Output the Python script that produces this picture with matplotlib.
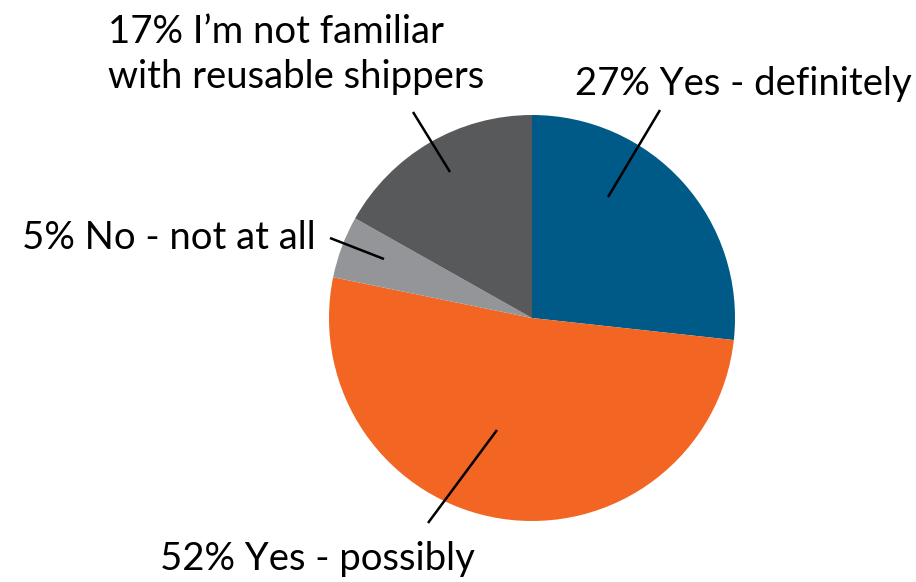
import matplotlib
matplotlib.use("Agg")
import matplotlib.pyplot as plt

labels = ["27% Yes - definitely", "52% Yes - possibly", "5% No - not at all",
          "17% I\u2019m not familiar\nwith reusable shippers"]
values = [27, 52, 5, 17]
colors = ["#005a87", "#f26522", "#939598", "#58595b"]

W, H = 916, 582
fig = plt.figure(figsize=(W / 100, H / 100), dpi=100)
fig.patch.set_facecolor("white")

cx, cy, r = 532, 318, 203
ax = fig.add_axes([(cx - r) / W, (H - cy - r) / H, 2 * r / W, 2 * r / H])
ax.pie(values, colors=colors, startangle=90, counterclock=False, radius=1.0,
       wedgeprops=dict(linewidth=0))
ax.set_xlim(-1, 1)
ax.set_ylim(-1, 1)
ax.set_aspect("equal")
ax.axis("off")


def px(x, y):
    return ((x - cx) / r, (cy - y) / r)


# leader lines (inner point, outer point) in pixel space
leaders = [((608, 197), (660, 110)),
           ((497, 430), (428, 523)),
           ((384, 259), (330, 238)),
           ((450, 172), (413, 112))]
for (a, b) in leaders:
    (x0, y0), (x1, y1) = px(*a), px(*b)
    ax.plot([x0, x1], [y0, y1], color="black", lw=1.8, clip_on=False,
            solid_capstyle="butt")

font = dict(family=["Lato", "DejaVu Sans"], fontsize=27.5, color="black")
# label anchors: (x, baseline y of first line) in pixels
anchors = [(575, 95), (160, 570), (22, 249), (108, 43)]
line_gap = 45
for lab, (x, y) in zip(labels, anchors):
    for i, line in enumerate(lab.split("\n")):
        fig.text(x / W, 1 - (y + i * line_gap) / H, line, ha="left",
                 va="baseline", **font)

fig.savefig("out.png", dpi=100)
